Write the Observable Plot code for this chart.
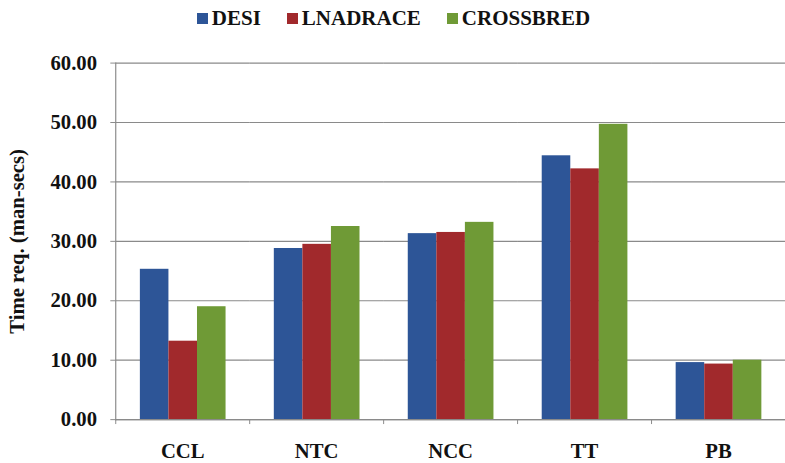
<!DOCTYPE html>
<html>
<head>
<meta charset="utf-8">
<script src="https://cdn.jsdelivr.net/npm/d3@7"></script>
<script src="https://cdn.jsdelivr.net/npm/@observablehq/plot@0.6"></script>
<style>
  html, body { margin: 0; padding: 0; background: #fff; }
  #wrap { width: 785px; height: 463px; overflow: hidden; position: relative; }
  #legend { height: 36px; display: flex; justify-content: center; align-items: center;
    font-family: "Liberation Serif", "Times New Roman", serif; font-weight: bold; font-size: 21px; color: #111; padding-left: 2px; }
  .item { display: flex; align-items: center; margin: 0 13px; }
  .sw { width: 11px; height: 11px; margin-right: 4px; margin-top: 0px; }
  #chart svg { display: block; }
</style>
</head>
<body>
<div id="wrap">
  <div id="legend"></div>
  <div id="chart"></div>
</div>
<script>
const categories = ["CCL", "NTC", "NCC", "TT", "PB"];
const series = ["DESI", "LNADRACE", "CROSSBRED"];
const desi = [25.3, 28.8, 31.3, 44.4, 9.6];
const lnadrace = [13.2, 29.5, 31.5, 42.2, 9.35];
const crossbred = [19.0, 32.5, 33.2, 49.7, 10.0];
const yTicks = [0, 10, 20, 30, 40, 50, 60];
const yLabel = "Time req. (man-secs)";
const colors = ["#2D5597", "#A1292C", "#6F9A36"];

const seriesValues = [desi, lnadrace, crossbred];
const data = categories.flatMap((c, i) =>
  series.map((s, j) => ({category: c, series: s, value: seriesValues[j][i]})));

// legend
const legend = document.getElementById("legend");
series.forEach((s, j) => {
  const item = document.createElement("div");
  item.className = "item";
  const sw = document.createElement("div");
  sw.className = "sw";
  sw.style.background = colors[j];
  const t = document.createElement("span");
  t.textContent = s;
  item.appendChild(sw);
  item.appendChild(t);
  legend.appendChild(item);
});

const width = 797, marginLeft = 117, marginRight = 0;
const halfBand = (width - marginLeft - marginRight) / categories.length / 2;
const font = "'Liberation Serif', 'Times New Roman', serif";

const chart = Plot.plot({
  width,
  height: 427,
  marginTop: 27,
  marginBottom: 38,
  marginLeft,
  marginRight,
  style: {fontFamily: font, background: "#fff", overflow: "visible"},
  fx: {domain: categories, padding: 0, label: null},
  x: {domain: series, paddingInner: 0, paddingOuter: 0.77, axis: null},
  y: {domain: [0, 60]},
  color: {domain: series, range: colors},
  marks: [
    Plot.gridY(yTicks, {stroke: "#8a8a8a", strokeOpacity: 1, strokeWidth: 1.2}),
    Plot.barY(data, {fx: "category", x: "series", y: "value", fill: "series"}),
    Plot.ruleY([0], {stroke: "#8a8a8a", strokeWidth: 1.2}),
    Plot.frame({anchor: "left", stroke: "#8a8a8a", strokeWidth: 1.2, facetAnchor: "left"}),
    Plot.axisY(yTicks, {
      tickSize: 5, tickPadding: 14, tickFormat: d3.format(".2f"),
      stroke: "#8a8a8a", fill: "#111", fontSize: 21, fontWeight: "bold",
      label: yLabel, labelAnchor: "center", labelOffset: 108, labelArrow: false
    }),
    Plot.axisFx({anchor: "bottom", tickSize: 0, tickPadding: 24, fontSize: 21, fontWeight: "bold", fill: "#111", label: null}),
    Plot.axisFx({anchor: "bottom", tickSize: 5, tickFormat: () => "", stroke: "#8a8a8a", dx: -halfBand, label: null})
  ]
});
document.getElementById("chart").appendChild(chart);
</script>
</body>
</html>
